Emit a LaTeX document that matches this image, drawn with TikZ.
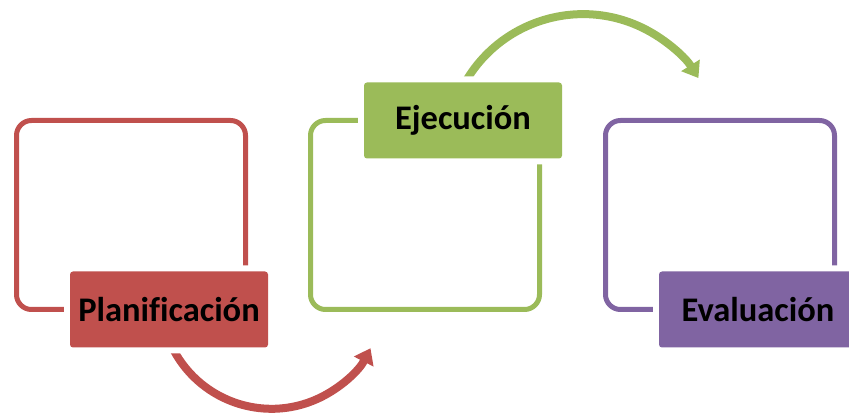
\documentclass[tikz,border=0pt]{standalone}
\usepackage{fontspec}
\setmainfont{Carlito}[Ligatures=CommonOff]
\usetikzlibrary{positioning,arrows.meta,backgrounds}
\definecolor{planred}{HTML}{C0504D}
\definecolor{ejegreen}{HTML}{9BBB59}
\definecolor{evalpurple}{HTML}{8064A2}
\tikzset{
  stagebox/.style={draw=#1, line width=5pt, rounded corners=15pt, minimum width=229pt, minimum height=189pt, outer sep=0pt},
  stagelabel/.style={fill=#1, rounded corners=3pt, minimum width=198pt, minimum height=76pt, inner sep=0pt,
    preaction={draw=white, line width=12pt}, font=\fontsize{34.5}{40}\selectfont\bfseries, text=black},
  turnarrow/.style={draw=#1, line width=8pt, -{Triangle[width=21pt,length=15pt]}}
}
\begin{document}
\begin{tikzpicture}[x=1pt,y=1pt]
\useasboundingbox (0,0) rectangle (849,415);
% open boxes
\node[stagebox=planred] (planframe) at (131,200) {};
\node[stagebox=ejegreen, right=65pt of planframe] (ejeframe) {};
\node[stagebox=evalpurple, right=66pt of ejeframe] (evalframe) {};
% labels
\node[stagelabel=planred] (plan) at ([xshift=38pt]planframe.south) {Planificación};
\node[stagelabel=ejegreen] (eje) at ([xshift=38pt]ejeframe.north) {Ejecución};
\node[stagelabel=evalpurple] (eval) at ([xshift=38pt]evalframe.south) {Evaluación};
% arrows between stages
\begin{scope}[on background layer]
\draw[turnarrow=planred] ([xshift=2pt,yshift=3pt]plan.south) arc[start angle=205, end angle=333, radius=111];
\draw[turnarrow=ejegreen] ([yshift=-4pt]eje.north) arc[start angle=152, end angle=32, radius=136];
\end{scope}
\end{tikzpicture}
\end{document}
